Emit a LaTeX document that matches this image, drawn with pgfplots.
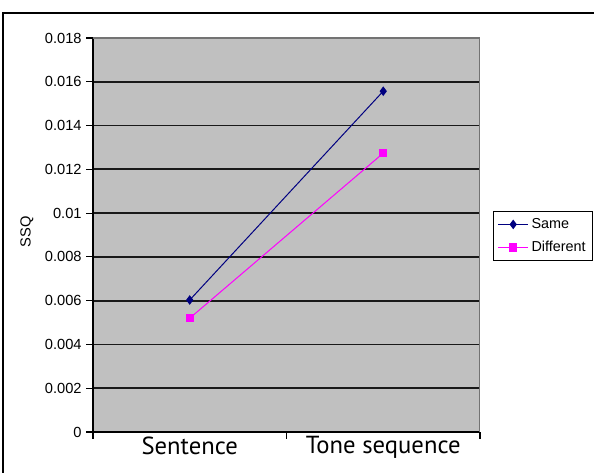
\documentclass[border=0pt]{standalone}
\usepackage{pgfplots}
\pgfplotsset{compat=1.18}
\usepackage{fontspec}
\setmainfont{Liberation Sans}
\newfontfamily\ptsans{PT Sans}
\definecolor{silver}{HTML}{C0C0C0}
\definecolor{xlnavy}{HTML}{000080}
\definecolor{xlmag}{HTML}{FF00FF}
\begin{document}
\begin{tikzpicture}
\useasboundingbox (0pt,0pt) rectangle (445.5pt,354.75pt);
\draw[line width=1.1pt] (2.25pt,-2pt) -- (2.25pt,345pt) -- (447pt,345pt);
\node[rotate=90, font=\fontsize{11}{13}\selectfont] at (20.25pt,180.75pt) {SSQ};
\begin{axis}[
  at={(69.75pt,30.75pt)}, anchor=south west,
  scale only axis, width=290.25pt, height=295.5pt,
  xmin=-0.5, xmax=1.5, ymin=0, ymax=0.018,
  axis lines=left, axis line style={-, black, line width=1pt},
  xtick={-0.5,0.5,1.5}, xticklabels={,,},
  extra x ticks={0,1}, extra x tick labels={Sentence,Tone sequence},
  extra x tick style={major tick length=0pt, grid=none},
  xticklabel style={font=\ptsans\fontsize{18.5}{20}\selectfont, yshift=0pt},
  ytick={0,0.002,0.004,0.006,0.008,0.01,0.012,0.014,0.016,0.018},
  scaled y ticks=false,
  yticklabel style={/pgf/number format/fixed, /pgf/number format/precision=3,
    font=\fontsize{11}{13}\selectfont},
  /pgf/number format/assume math mode=true,
  tick align=outside, major tick length=5pt,
  tick style={black, line width=0.8pt},
  ymajorgrids, grid style={black!90, line width=1.3pt},
  axis background/.style={fill=silver},
  legend style={at={(axis description cs:1.034,0.4975)}, anchor=west,
    draw=black, line width=0.6pt, font=\fontsize{10.8}{12}\selectfont,
    row sep=4pt, inner sep=3pt},
  legend cell align=left,
  legend image code/.code={\draw[mark repeat=2,mark phase=2] plot coordinates {(0cm,0cm) (0.4cm,0cm) (0.8cm,0cm)};},
]
\addplot[xlnavy, line width=0.75pt, mark=diamond*, mark size=3pt, mark options={solid, fill=xlnavy}]
  coordinates {(0,0.00603) (1,0.01557)};
\addlegendentry{Same}
\addplot[xlmag, line width=0.75pt, mark=square*, mark size=2.8pt, mark options={solid, fill=xlmag}]
  coordinates {(0,0.0052) (1,0.01274)};
\addlegendentry{Different}
\draw[black!55, line width=0.8pt] (rel axis cs:0,1) -- (rel axis cs:1,1) -- (rel axis cs:1,0);
\end{axis}
\end{tikzpicture}
\end{document}
